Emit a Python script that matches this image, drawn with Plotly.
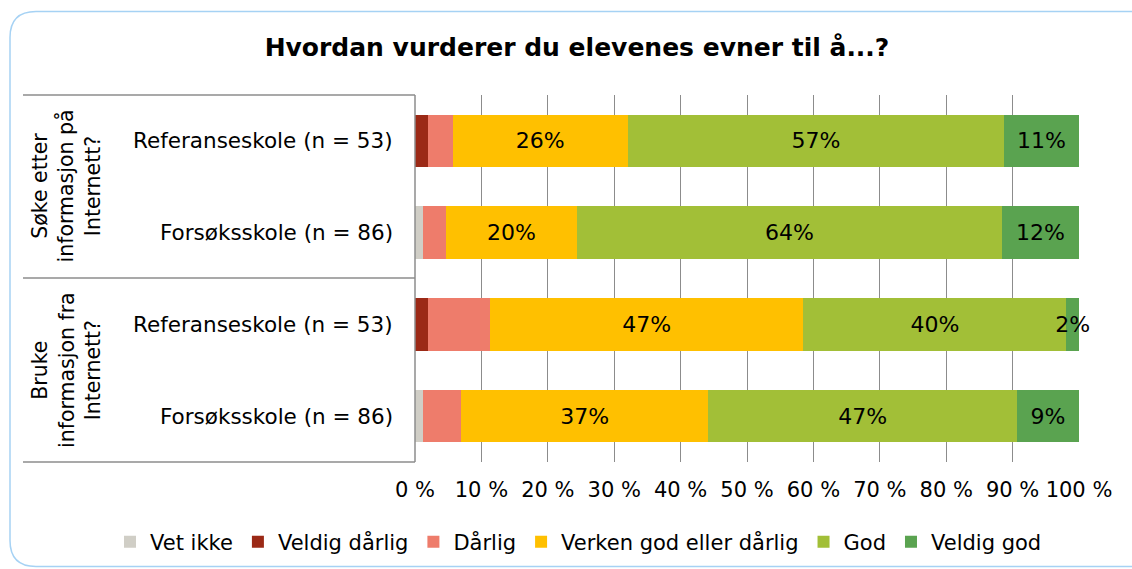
import plotly.graph_objects as go

# ---- data ----
title = "Hvordan vurderer du elevenes evner til å...?"
groups = ["Søke etter<br>informasjon på<br>Internett?", "Bruke<br>informasjon fra<br>Internett?"]
categories = ["Referanseskole (n = 53)", "Forsøksskole (n = 86)",
              "Referanseskole (n = 53)", "Forsøksskole (n = 86)"]
series_names = ["Vet ikke", "Veldig dårlig", "Dårlig", "Verken god eller dårlig", "God", "Veldig god"]
vet_ikke      = [0.0, 1.16, 0.0, 1.16]
veldig_darlig = [1.89, 0.0, 1.89, 0.0]
darlig        = [3.77, 3.49, 9.43, 5.81]
verken        = [26.42, 19.77, 47.17, 37.21]
god           = [56.60, 63.95, 39.62, 46.51]
veldig_god    = [11.32, 11.63, 1.89, 9.30]
series_values = [vet_ikke, veldig_darlig, darlig, verken, god, veldig_god]
labelled = [False, False, False, True, True, True]
colors = ["#D0CEC6", "#9B2916", "#EE7C6B", "#FFC000", "#A2BF37", "#5AA350"]
tick_vals = [0, 10, 20, 30, 40, 50, 60, 70, 80, 90, 100]
tick_text = ["0 %", "10 %", "20 %", "30 %", "40 %", "50 %", "60 %", "70 %", "80 %", "90 %", "100 %"]

W, H = 1132, 569
L, R, T, B = 415, 1079, 95, 462  # plot area in pixels
FONT = "DejaVu Sans"

def px(x):
    return (x - L) / (R - L)

def py(y):
    return (B - y) / (B - T)

ypos = list(range(len(categories)))

fig = go.Figure()
for name, vals, col, lab in zip(series_names, series_values, colors, labelled):
    kw = {}
    if lab:
        kw = dict(texttemplate="%{x:.0f}%", textposition="inside", insidetextanchor="middle",
                  textangle=0, textfont=dict(family=FONT, size=22, color="#000000"),
                  constraintext="none")
    fig.add_trace(go.Bar(x=vals, y=ypos, name=name, orientation="h", cliponaxis=False,
                         marker=dict(color=col, line=dict(width=0)), **kw))

fig.update_layout(
    width=W, height=H, barmode="stack", bargap=0.43,
    margin=dict(l=L, r=W - R, t=T, b=H - B, autoexpand=False),
    paper_bgcolor="white", plot_bgcolor="white",
    title=dict(text="<b>" + title + "</b>", x=577 / W, xanchor="center", xref="container",
               y=1 - 47 / H, yanchor="middle", yref="container",
               font=dict(family=FONT, size=25, color="#000000")),
    uniformtext=dict(minsize=22, mode="show"),
    legend=dict(orientation="h", xref="paper", yref="paper", x=px(110), xanchor="left",
                y=py(542), yanchor="middle", traceorder="normal",
                font=dict(family=FONT, size=21, color="#000000"),
                itemwidth=30, bgcolor="rgba(0,0,0,0)"),
    xaxis=dict(range=[0, 100], tickvals=tick_vals, ticktext=tick_text, showgrid=True,
               gridcolor="#8C8C8C", gridwidth=1, zeroline=False, showline=False,
               ticks="", ticklabelstandoff=13,
               tickfont=dict(family=FONT, size=21, color="#000000")),
    yaxis=dict(range=[len(categories) - 0.5, -0.5], showticklabels=False, showgrid=False,
               zeroline=False, showline=False, ticks=""),
    showlegend=True,
)

# category labels
for i, c in enumerate(categories):
    fig.add_annotation(x=px(395), xref="paper", y=i, yref="y", text=c, showarrow=False,
                       xanchor="right", yanchor="middle",
                       font=dict(family=FONT, size=21.5, color="#000000"))

# group labels
group_mid = [(95 + 278) / 2, (278 + 462) / 2]
for g, m in zip(groups, group_mid):
    fig.add_annotation(x=px(66), xref="paper", y=py(m), yref="paper", text=g, showarrow=False,
                       textangle=-90, xanchor="center", yanchor="middle", align="center",
                       font=dict(family=FONT, size=20.5, color="#000000"))

line_col = "#8C8C8C"
# table lines
for yy in [95, 278, 462]:
    fig.add_shape(type="line", xref="paper", yref="paper", x0=px(23), x1=px(415),
                  y0=py(yy), y1=py(yy), line=dict(color=line_col, width=1.5))
fig.add_shape(type="line", xref="paper", yref="paper", x0=px(415), x1=px(415),
              y0=py(95), y1=py(462), line=dict(color=line_col, width=1.5))

# rounded outer border
x0b, x1b, y0b, y1b, r = 10, 1160, 11.5, 566.5, 26
path = (f"M {px(x0b)},{py(y0b + r)} "
        f"Q {px(x0b)},{py(y0b)} {px(x0b + r)},{py(y0b)} "
        f"L {px(x1b - r)},{py(y0b)} "
        f"Q {px(x1b)},{py(y0b)} {px(x1b)},{py(y0b + r)} "
        f"L {px(x1b)},{py(y1b - r)} "
        f"Q {px(x1b)},{py(y1b)} {px(x1b - r)},{py(y1b)} "
        f"L {px(x0b + r)},{py(y1b)} "
        f"Q {px(x0b)},{py(y1b)} {px(x0b)},{py(y1b - r)} Z")
fig.add_shape(type="path", path=path, xref="paper", yref="paper",
              line=dict(color="#A6D2F4", width=1.5), layer="below")

fig.write_html("out.html", config={"displayModeBar": False},
               post_script="document.body.style.margin='0';document.body.style.padding='0';"
                           "document.documentElement.style.overflow='hidden';")
